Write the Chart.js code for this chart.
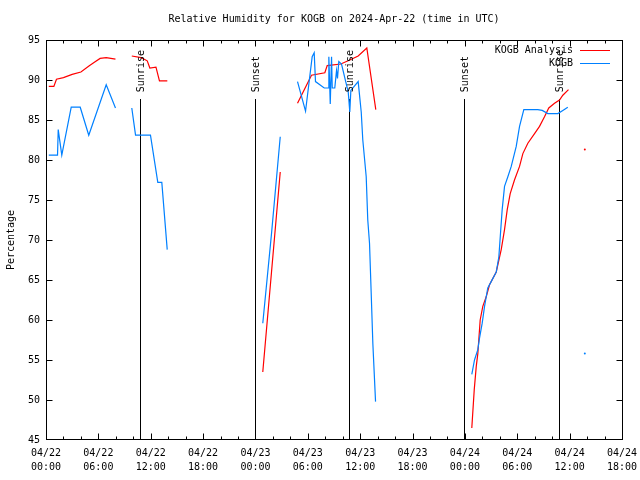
<!DOCTYPE html>
<html>
<head>
<meta charset="utf-8">
<script src="https://cdn.jsdelivr.net/npm/chart.js@4.4.1/dist/chart.umd.min.js"></script>
<style>
  html, body { margin: 0; padding: 0; background: #fff; }
  #wrap { width: 640px; height: 480px; }
</style>
</head>
<body>
<div id="wrap"><canvas id="rhChart" width="640" height="480"></canvas></div>
<script>
// hours since 2024-04-22 00:00 UTC, null RH = gap in the record
const analysisHours = [0.32, 0.90, 1.20, 2.00, 3.00, 4.00, 5.00, 5.50, 6.20, 6.90, 7.96, 8.90,
  9.83, 10.90, 11.60, 11.90, 12.60, 13.00, 13.90, 19.00,
  24.84, 25.84, 26.84, 27.80,
  28.82, 30.42, 31.95, 32.22, 33.78, 34.81, 35.77, 36.76, 37.79, 43.00,
  48.79, 49.07, 49.30, 49.48, 49.75, 50.05, 50.44, 50.82, 51.59, 52.16, 52.54, 52.85, 53.19,
  53.68, 54.26, 54.64, 55.21, 55.98, 56.55, 57.12, 57.61, 58.27, 58.84, 59.22, 59.87];
const analysisRH = [89.2, 89.2, 90.1, 90.3, 90.7, 91.0, 91.8, 92.2, 92.7, 92.8, 92.6, null,
  93.0, 92.8, 92.4, 91.5, 91.6, 89.9, 89.9, null,
  53.5, 66.0, 78.5, null,
  87.1, 90.6, 90.9, 91.8, 92.0, 92.5, 93.0, 94.0, 86.3, null,
  46.5, 51.3, 54.2, 55.8, 60.0, 61.7, 62.9, 64.4, 66.0, 68.8, 71.3, 73.8, 75.8,
  77.5, 79.2, 80.8, 82.1, 83.3, 84.2, 85.4, 86.5, 87.1, 87.5, 88.1, 88.8];

const obsHours = [0.32, 1.32, 1.40, 1.81, 2.89, 3.92, 4.90, 6.90, 7.96, 8.90,
  9.83, 10.26, 11.97, 12.81, 13.27, 13.89, 19.00,
  24.84, 25.84, 26.84, 27.80,
  28.82, 29.74, 30.50, 30.73, 30.88, 31.88, 32.34, 32.41, 32.57, 32.72, 32.80, 33.09, 33.29,
  33.40, 33.55, 33.86, 34.63, 34.81, 34.93, 35.77, 36.12, 36.30, 36.69, 36.87, 37.07, 37.26,
  37.45, 37.76, 43.00,
  48.79, 49.10, 49.48, 49.67, 49.98, 50.25, 50.62, 51.01, 51.59, 51.89, 52.05, 52.27, 52.54,
  52.92, 53.31, 53.88, 54.26, 54.75, 55.21, 56.35, 56.86, 57.50, 58.65, 59.22, 59.79];
const obsRH = [80.6, 80.6, 83.8, 80.6, 86.6, 86.6, 83.1, 89.4, 86.5, null,
  86.5, 83.1, 83.1, 77.2, 77.2, 68.8, null,
  59.6, 70.8, 82.9, null,
  89.8, 86.1, 92.9, 93.4, 89.8, 89.0, 89.0, 92.9, 87.0, 92.9, 89.0, 89.0, 91.2,
  90.2, 92.3, 92.0, 88.5, 86.0, 88.7, 89.8, 86.0, 82.5, 77.9, 72.5, 69.6, 63.4,
  57.1, 49.8, null,
  53.2, 55.0, 56.3, 57.7, 59.6, 61.7, 64.0, 64.8, 66.0, 67.9, 70.4, 73.8, 76.7,
  77.9, 79.2, 81.7, 84.2, 86.3, 86.3, 86.3, 86.2, 85.8, 85.8, 86.2, 86.6];

// lone samples with no neighbours
const analysisDotHours = [61.74];
const analysisDotRH = [81.3];
const obsDotHours = [61.74];
const obsDotRH = [55.8];

const sunriseHours = [10.77, 34.75, 58.73];
const sunsetHours = [23.92, 47.92];
const sunLineTop = 87.6;

const dayLabels = ['04/22', '04/23', '04/24', '04/25'];
const hourLabels = ['00:00', '06:00', '12:00', '18:00'];

const FONT = 'DejaVu Sans Mono';
Chart.defaults.font.family = FONT;
Chart.defaults.font.size = 10;
Chart.defaults.color = '#000';

function toPoints(hours, vals) {
  return hours.map((h, i) => ({ x: h, y: vals[i] }));
}

// gnuplot look: frame, inward ticks on all sides, sun markers, key, title
const gnuplotFrame = {
  id: 'gnuplotFrame',
  beforeDatasetsDraw(chart) {
    // sunrise / sunset verticals sit under the data lines
    const { ctx, scales: { x, y } } = chart;
    const top = Math.round(y.getPixelForValue(sunLineTop));
    const bottom = Math.round(y.getPixelForValue(45));
    ctx.save();
    ctx.strokeStyle = '#000';
    ctx.lineWidth = 1;
    ctx.beginPath();
    sunriseHours.concat(sunsetHours).forEach(h => {
      const px = Math.round(x.getPixelForValue(h)) + 0.5;
      ctx.moveTo(px, top);
      ctx.lineTo(px, bottom);
    });
    ctx.stroke();
    ctx.restore();
  },
  afterDraw(chart) {
    const { ctx, chartArea: a, scales: { x, y } } = chart;
    const L = Math.floor(a.left) + 0.5, R = Math.floor(a.right) + 0.5;
    const T = Math.floor(a.top) + 0.5, B = Math.floor(a.bottom) - 0.5;
    ctx.save();
    ctx.strokeStyle = '#000';
    ctx.lineWidth = 1;
    ctx.strokeRect(L, T, R - L, B - T);

    ctx.beginPath();
    x.ticks.forEach(t => {
      const px = Math.min(R, Math.max(L, Math.round(x.getPixelForValue(t.value)) + 0.5));
      const len = t.value % 6 === 0 ? 6 : 3;
      ctx.moveTo(px, B); ctx.lineTo(px, B - len);
      ctx.moveTo(px, T); ctx.lineTo(px, T + len);
    });
    y.ticks.forEach(t => {
      const py = Math.min(B, Math.max(T, Math.round(y.getPixelForValue(t.value)) + 0.5));
      ctx.moveTo(L, py); ctx.lineTo(L + 6, py);
      ctx.moveTo(R, py); ctx.lineTo(R - 6, py);
    });
    ctx.stroke();

    ctx.fillStyle = '#000';
    ctx.font = '10px "' + FONT + '"';
    const labelY = y.getPixelForValue(sunLineTop) - 7;
    const sunLabel = (h, txt) => {
      ctx.save();
      ctx.translate(Math.round(x.getPixelForValue(h)) + 1.5, labelY);
      ctx.rotate(-Math.PI / 2);
      ctx.textAlign = 'left';
      ctx.textBaseline = 'middle';
      ctx.fillText(txt, 0, 0);
      ctx.restore();
    };
    sunriseHours.forEach(h => sunLabel(h, 'Sunrise'));
    sunsetHours.forEach(h => sunLabel(h, 'Sunset'));

    // key
    const keys = [['KOGB Analysis', '#ff0000'], ['KOGB', '#0080ff']];
    keys.forEach(([txt, col], i) => {
      const ky = a.top + 10 + i * 13;
      ctx.textAlign = 'right';
      ctx.textBaseline = 'middle';
      ctx.fillStyle = '#000';
      ctx.fillText(txt, a.right - 49, ky);
      ctx.strokeStyle = col;
      ctx.beginPath();
      ctx.moveTo(a.right - 42, Math.round(ky) + 0.5);
      ctx.lineTo(a.right - 12, Math.round(ky) + 0.5);
      ctx.stroke();
    });

    ctx.fillStyle = '#000';
    ctx.textAlign = 'center';
    ctx.textBaseline = 'middle';
    ctx.fillText('Relative Humidity for KOGB on 2024-Apr-22 (time in UTC)', (a.left + a.right) / 2, 19);
    ctx.restore();
  }
};

new Chart(document.getElementById('rhChart'), {
  type: 'line',
  data: {
    datasets: [
      { label: 'KOGB', data: toPoints(obsHours, obsRH), borderColor: '#0080ff', borderWidth: 1.2,
        pointRadius: 0, order: 0 },
      { label: 'KOGB Analysis', data: toPoints(analysisHours, analysisRH), borderColor: '#ff0000',
        borderWidth: 1.2, pointRadius: 0, order: 1 },
      { data: toPoints(obsDotHours, obsDotRH), showLine: false, pointRadius: 1, pointBorderWidth: 0,
        pointBackgroundColor: '#0080ff', order: 0 },
      { data: toPoints(analysisDotHours, analysisDotRH), showLine: false, pointRadius: 1, pointBorderWidth: 0,
        pointBackgroundColor: '#ff0000', order: 1 }
    ]
  },
  options: {
    responsive: false,
    animation: false,
    layout: { padding: { top: 40, right: 18, left: 0, bottom: 0 } },
    plugins: {
      legend: { display: false },
      tooltip: { enabled: false },
      title: { display: false }
    },
    scales: {
      x: {
        type: 'linear',
        min: 0,
        max: 66,
        grid: { display: false, drawTicks: false },
        border: { display: false },
        ticks: {
          stepSize: 2,
          autoSkip: false,
          maxRotation: 0,
          minRotation: 0,
          padding: 6,
          font: { size: 10, lineHeight: 1.4 },
          callback: v => v % 6 === 0
            ? [dayLabels[Math.floor(v / 24)], hourLabels[(v % 24) / 6]]
            : ''
        },
        afterFit: s => { s.height = 40; s.paddingLeft = 0; s.paddingRight = 0; }
      },
      y: {
        min: 45,
        max: 95,
        grid: { display: false, drawTicks: false },
        border: { display: false },
        ticks: { stepSize: 5, padding: 6 },
        title: { display: true, text: 'Percentage', padding: { top: 5, bottom: 0 } },
        afterFit: s => { s.width = 46; }
      }
    }
  },
  plugins: [gnuplotFrame]
});
</script>
</body>
</html>
